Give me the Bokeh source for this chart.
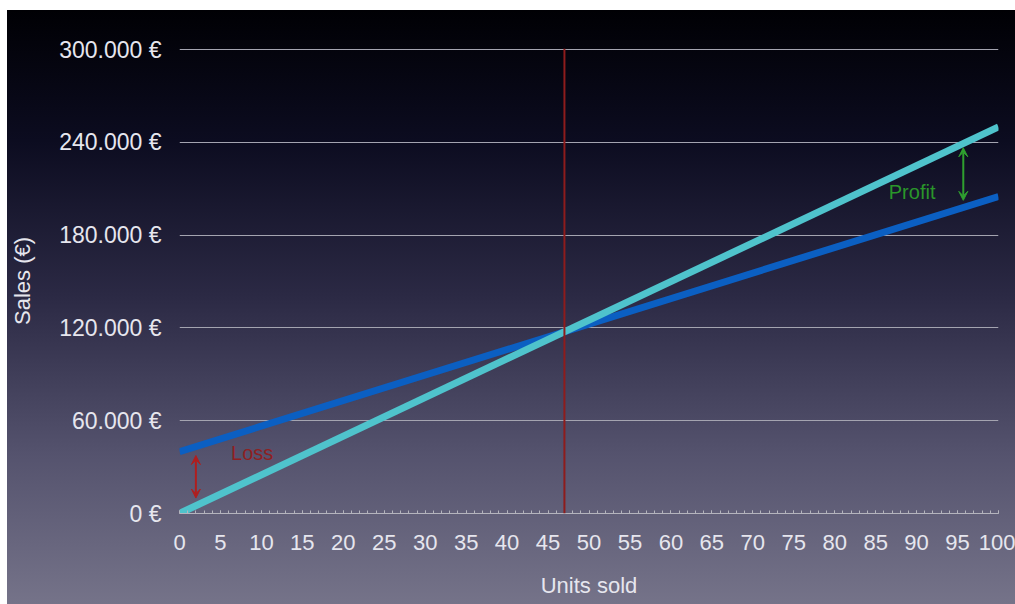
from bokeh.plotting import figure
from bokeh.models import Range1d, FixedTicker, SingleIntervalTicker, Arrow, VeeHead, Span, Label
from bokeh.embed import file_html
from bokeh.resources import INLINE

# ---- data ----
units = [0, 100]
revenue = [0, 250000]
costs = [40000, 205000]
break_even = 47
y_ticks = [0, 60000, 120000, 180000, 240000, 300000]
y_labels = ["0 €", "60.000 €", "120.000 €", "180.000 €", "240.000 €", "300.000 €"]
loss_x, loss_y0, loss_y1 = 2, 10000, 37500
profit_x, profit_y0, profit_y1 = 95.7, 202500, 236500
loss_label = ("Loss", 6.3, 39400)
profit_label = ("Profit", 86.6, 208200)

FONT = "Liberation Sans"
TXT = "#e6e6ee"

p = figure(width=1008, height=594, output_backend="svg", toolbar_location=None,
           x_range=Range1d(0, 100), y_range=Range1d(0, 300700),
           min_border_left=171, min_border_right=17, min_border_top=38, min_border_bottom=91,
           background_fill_color=None, border_fill_color=None, outline_line_color=None,
           styles={"margin-left": "7px", "margin-top": "10px",
                   "background-image": "linear-gradient(to bottom, #000004 0%, #0c0c20 22%, #2b2944 48%, #55536e 75%, #757389 100%)"})

# grid
p.xgrid.grid_line_color = None
p.ygrid.grid_line_color = "#a4a4b0"
p.ygrid.grid_line_width = 1
p.ygrid.ticker = FixedTicker(ticks=y_ticks)

# y axis
p.yaxis.ticker = FixedTicker(ticks=y_ticks)
p.yaxis.major_label_overrides = {t: l for t, l in zip(y_ticks, y_labels)}
p.yaxis.axis_line_color = None
p.yaxis.major_tick_line_color = None
p.yaxis.minor_tick_line_color = None
p.yaxis.major_tick_out = 0
p.yaxis.major_tick_in = 0
p.yaxis.major_label_standoff = 18
p.yaxis.major_label_text_font = FONT
p.yaxis.major_label_text_font_size = "23px"
p.yaxis.major_label_text_color = TXT
p.yaxis.axis_label = "Sales (€)"
p.yaxis.axis_label_text_font = FONT
p.yaxis.axis_label_text_font_size = "22px"
p.yaxis.axis_label_text_font_style = "normal"
p.yaxis.axis_label_text_color = TXT
p.yaxis.axis_label_standoff = 21

# x axis
p.xaxis.ticker = SingleIntervalTicker(interval=5, num_minor_ticks=5)
p.xaxis.axis_line_color = "#b4b4bd"
p.xaxis.axis_line_width = 1
p.xaxis.major_tick_line_color = "#b4b4bd"
p.xaxis.minor_tick_line_color = "#b4b4bd"
p.xaxis.major_tick_in = 3
p.xaxis.major_tick_out = 0
p.xaxis.minor_tick_in = 3
p.xaxis.minor_tick_out = 0
p.xaxis.major_label_standoff = 21
p.xaxis.major_label_text_font = FONT
p.xaxis.major_label_text_font_size = "22px"
p.xaxis.major_label_text_color = TXT
p.xaxis.axis_label = "Units sold"
p.xaxis.axis_label_text_font = FONT
p.xaxis.axis_label_text_font_size = "22px"
p.xaxis.axis_label_text_font_style = "normal"
p.xaxis.axis_label_text_color = TXT
p.xaxis.axis_label_standoff = 20

# break-even line
p.add_layout(Span(location=break_even, dimension="height", line_color="#8e1c1c", line_width=2))

# lines
p.line(units, costs, line_color="#0b5fc2", line_width=7)
p.line(units, revenue, line_color="#4fc3cc", line_width=7)

# arrows
p.add_layout(Arrow(x_start=loss_x, y_start=loss_y0, x_end=loss_x, y_end=loss_y1,
                   line_color="#b01e1e", line_width=2,
                   start=VeeHead(size=9, line_color="#b01e1e", fill_color="#b01e1e", line_width=1),
                   end=VeeHead(size=9, line_color="#b01e1e", fill_color="#b01e1e", line_width=1)))
p.add_layout(Arrow(x_start=profit_x, y_start=profit_y0, x_end=profit_x, y_end=profit_y1,
                   line_color="#2fa02f", line_width=2,
                   start=VeeHead(size=9, line_color="#2fa02f", fill_color="#2fa02f", line_width=1),
                   end=VeeHead(size=9, line_color="#2fa02f", fill_color="#2fa02f", line_width=1)))

p.add_layout(Label(x=loss_label[1], y=loss_label[2], text=loss_label[0], text_font=FONT,
                   text_font_size="20px", text_color="#8e1f22", text_baseline="middle"))
p.add_layout(Label(x=profit_label[1], y=profit_label[2], text=profit_label[0], text_font=FONT,
                   text_font_size="20px", text_color="#2a962a", text_baseline="middle"))

open("out.html", "w").write(file_html(p, INLINE))
